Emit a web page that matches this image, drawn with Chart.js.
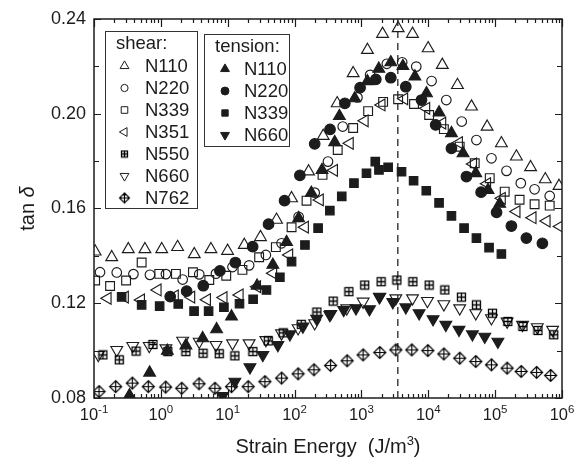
<!DOCTYPE html>
<html>
<head>
<meta charset="utf-8">
<script src="https://cdn.jsdelivr.net/npm/chart.js@4.4.1/dist/chart.umd.min.js"></script>
<style>
  html, body { margin: 0; padding: 0; background: #fff; }
  canvas { display: block; }
</style>
</head>
<body>
<canvas id="tanDelta" width="583" height="469" style="width:583px;height:469px"></canvas>
<script>
// strain energy (J/m^3) and tan delta, one pair of arrays per sample
const SHEAR_N110_E = [0.104, 0.184, 0.326, 0.578, 1.03, 1.78, 3.16, 5.61, 9.95, 17.7, 30.9, 53.7, 90.2, 162, 268, 434, 752, 1230, 2070, 3540, 5810, 9950, 16200, 27300, 44300, 75900, 124000, 208000, 339000, 562000, 902000];
const SHEAR_N110_TAN = [0.1418, 0.1394, 0.1428, 0.1428, 0.1428, 0.1437, 0.1407, 0.1428, 0.1421, 0.1446, 0.1479, 0.1552, 0.1643, 0.1756, 0.1906, 0.2044, 0.2171, 0.2269, 0.2337, 0.2361, 0.2337, 0.2276, 0.2206, 0.2121, 0.2030, 0.1945, 0.1875, 0.1819, 0.1774, 0.1723, 0.1695];

const SHEAR_N220_E = [0.123, 0.219, 0.389, 0.687, 1.19, 2.12, 3.75, 6.67, 11.8, 20.9, 37.2, 63.8, 115, 200, 316, 525, 871, 1350, 2400, 4070, 6610, 11200, 18600, 31600, 52500, 88100, 148000, 242000, 389000, 655000];
const SHEAR_N220_TAN = [0.1331, 0.1330, 0.1323, 0.1320, 0.1323, 0.1300, 0.1322, 0.1325, 0.1353, 0.1360, 0.1404, 0.1453, 0.1565, 0.1667, 0.1798, 0.1946, 0.2069, 0.2164, 0.2211, 0.2217, 0.2199, 0.2138, 0.2058, 0.1967, 0.1889, 0.1812, 0.1759, 0.1707, 0.1681, 0.1653];

const SHEAR_N339_E = [0.104, 0.174, 0.302, 0.516, 0.946, 1.68, 3.02, 5.30, 9.51, 16.6, 29.5, 52.5, 90.2, 151, 262, 442, 752, 1260, 2110, 3540, 6120, 10300, 17100, 29500, 49500, 83000, 139000, 232000, 389000, 655000];
const SHEAR_N339_TAN = [0.1296, 0.1273, 0.1296, 0.1372, 0.1324, 0.1324, 0.1331, 0.1298, 0.1316, 0.1341, 0.1394, 0.1437, 0.1521, 0.1633, 0.1742, 0.1847, 0.1940, 0.2011, 0.2050, 0.2061, 0.2041, 0.1995, 0.1935, 0.1861, 0.1791, 0.1728, 0.1671, 0.1637, 0.1618, 0.1612];

const SHEAR_N351_E = [0.160, 0.290, 0.505, 0.895, 1.62, 2.85, 4.90, 8.67, 15.1, 27.5, 47.9, 83.2, 143, 239, 389, 670, 1120, 2000, 4370, 9330, 16200, 28800, 46800, 75900, 126000, 209000, 363000, 589000, 933000];
const SHEAR_N351_TAN = [0.1221, 0.1226, 0.1214, 0.1256, 0.1231, 0.1226, 0.1215, 0.1224, 0.1235, 0.1270, 0.1327, 0.1404, 0.1521, 0.1636, 0.1761, 0.1875, 0.1970, 0.2037, 0.2063, 0.2023, 0.1960, 0.1878, 0.1788, 0.1705, 0.1643, 0.1587, 0.1561, 0.1547, 0.1524];

const SHEAR_N550_E = [0.136, 0.239, 0.425, 0.762, 1.27, 2.37, 4.27, 7.46, 12.8, 23.8, 40.4, 67.6, 126, 216, 378, 650, 1120, 1970, 3390, 5890, 10300, 17700, 31300, 52500, 91200, 155000, 261000, 437000, 752000];
const SHEAR_N550_TAN = [0.0982, 0.0961, 0.0998, 0.1026, 0.0996, 0.0996, 0.0989, 0.0987, 0.0978, 0.0996, 0.1041, 0.1075, 0.1111, 0.1163, 0.1209, 0.1249, 0.1277, 0.1291, 0.1298, 0.1291, 0.1277, 0.1256, 0.1226, 0.1193, 0.1158, 0.1123, 0.1102, 0.1085, 0.1067];

const SHEAR_N660_E = [0.116, 0.219, 0.380, 0.671, 1.19, 2.12, 3.75, 6.67, 11.8, 20.9, 37.2, 63.8, 113, 200, 347, 603, 1060, 1880, 3270, 5810, 9720, 17100, 29500, 51300, 88100, 151000, 257000, 427000, 724000];
const SHEAR_N660_TAN = [0.0982, 0.1003, 0.1020, 0.1020, 0.1010, 0.1042, 0.1038, 0.1024, 0.1031, 0.1031, 0.1045, 0.1073, 0.1095, 0.1116, 0.1155, 0.1179, 0.1207, 0.1228, 0.1221, 0.1221, 0.1210, 0.1196, 0.1179, 0.1158, 0.1137, 0.1123, 0.1109, 0.1099, 0.1088];

const SHEAR_N762_E = [0.119, 0.211, 0.374, 0.649, 1.18, 2.05, 3.72, 6.44, 11.4, 20.2, 36.0, 64.0, 113, 195, 346, 611, 1060, 1880, 3270, 5660, 9840, 17100, 29500, 51300, 88100, 151000, 245000, 417000, 676000];
const SHEAR_N762_TAN = [0.0827, 0.0848, 0.0863, 0.0848, 0.0846, 0.0841, 0.0860, 0.0841, 0.0848, 0.0848, 0.0869, 0.0884, 0.0902, 0.0919, 0.0937, 0.0957, 0.0982, 0.0992, 0.1003, 0.1003, 0.1000, 0.0986, 0.0968, 0.0954, 0.0940, 0.0926, 0.0912, 0.0908, 0.0895];

const TENSION_N110_E = [0.339, 0.679, 1.25, 2.37, 4.22, 6.82, 11.4, 27.5, 47.3, 75.9, 115, 178, 257, 398, 468, 794, 1230, 1820, 2750, 4170, 6310, 9400, 14500, 22200, 33100, 51300, 78300, 117000];
const TENSION_N110_TAN = [0.0811, 0.0907, 0.0999, 0.1022, 0.1052, 0.1090, 0.1144, 0.1274, 0.1362, 0.1458, 0.1559, 0.1666, 0.1762, 0.1880, 0.1990, 0.2065, 0.2137, 0.2190, 0.2217, 0.2201, 0.2157, 0.2086, 0.2005, 0.1918, 0.1833, 0.1749, 0.1678, 0.1620];

const TENSION_N220_E = [1.38, 2.43, 4.31, 7.64, 13.0, 23.6, 40.8, 70.8, 120, 200, 339, 565, 955, 1640, 2750, 4610, 7910, 12900, 22200, 37200, 61700, 105000, 175000, 293000, 509000];
const TENSION_N220_TAN = [0.1228, 0.1251, 0.1274, 0.1337, 0.1372, 0.1439, 0.1534, 0.1633, 0.1740, 0.1873, 0.1934, 0.2044, 0.2110, 0.2145, 0.2152, 0.2114, 0.2058, 0.1953, 0.1854, 0.1735, 0.1669, 0.1584, 0.1526, 0.1475, 0.1453];

const TENSION_N339_E = [0.259, 0.516, 0.959, 1.82, 3.14, 5.18, 8.77, 15.0, 24.0, 38.0, 60.3, 90.2, 143, 225, 337, 508, 773, 1190, 1610, 1830, 2510, 3980, 6030, 9330, 14500, 22200, 34300, 52500, 81100, 124000];
const TENSION_N339_TAN = [0.1227, 0.1193, 0.1188, 0.1197, 0.1167, 0.1167, 0.1183, 0.1198, 0.1217, 0.1256, 0.1310, 0.1376, 0.1446, 0.1517, 0.1591, 0.1651, 0.1707, 0.1749, 0.1798, 0.1763, 0.1774, 0.1755, 0.1717, 0.1675, 0.1624, 0.1569, 0.1517, 0.1475, 0.1435, 0.1408];

const TENSION_N660_E = [8.38, 12.8, 21.5, 33.5, 56.2, 85.1, 133, 214, 337, 543, 828, 1320, 1860, 2950, 4610, 7290, 11800, 18300, 28800, 45700, 70000, 110000];
const TENSION_N660_TAN = [0.0809, 0.0869, 0.0930, 0.0982, 0.1024, 0.1069, 0.1102, 0.1135, 0.1151, 0.1172, 0.1179, 0.1175, 0.1226, 0.1205, 0.1183, 0.1158, 0.1133, 0.1109, 0.1088, 0.1069, 0.1059, 0.1038];

// energy where the loss peaks (dashed marker)
const PEAK_ENERGY = 3500;

// axis ranges and ticks
const X_MIN = 0.1;
const X_MAX = 1e6;
const X_DECADES = [-1, 0, 1, 2, 3, 4, 5, 6];
const Y_MIN = 0.08;
const Y_MAX = 0.24;
const Y_TICKS = [0.08, 0.12, 0.16, 0.20, 0.24];
const Y_MINOR = [0.10, 0.14, 0.18, 0.22];

const X_TITLE = 'Strain Energy  (J/m';
const X_TITLE_SUP = '3';
const X_TITLE_END = ')';
const Y_TITLE = 'tan ';
const Y_TITLE_SYMBOL = 'δ';

const SHEAR_TITLE = 'shear:';
const TENSION_TITLE = 'tension:';

const INK = '#1c1c1c';
const FONT = '"Liberation Sans", Arial, Helvetica, sans-serif';
const CLEAR = 'rgba(0,0,0,0)';

// small canvases for the two symbols Chart.js has no built-in style for
function plusSquare(half) {
  const size = Math.ceil(half) * 2 + 3;
  const c = document.createElement('canvas');
  c.width = c.height = size;
  const g = c.getContext('2d');
  const m = size / 2;
  g.strokeStyle = '#000';
  g.lineWidth = 1.3;
  g.strokeRect(m - half, m - half, half * 2, half * 2);
  g.beginPath();
  g.moveTo(m - half, m);
  g.lineTo(m + half, m);
  g.moveTo(m, m - half);
  g.lineTo(m, m + half);
  g.stroke();
  return c;
}

function plusDiamond(half) {
  const size = Math.ceil(half) * 2 + 3;
  const c = document.createElement('canvas');
  c.width = c.height = size;
  const g = c.getContext('2d');
  const m = size / 2;
  g.strokeStyle = '#000';
  g.lineWidth = 1.2;
  g.beginPath();
  g.moveTo(m, m - half);
  g.lineTo(m + half, m);
  g.lineTo(m, m + half);
  g.lineTo(m - half, m);
  g.closePath();
  g.moveTo(m - half, m);
  g.lineTo(m + half, m);
  g.moveTo(m, m - half);
  g.lineTo(m, m + half);
  g.stroke();
  return c;
}

function pairs(energy, tan) {
  return energy.map((e, i) => ({ x: e, y: tan[i] }));
}

// marker look for every sample, reused by the legend boxes
const STYLES = {
  sN110: { pointStyle: 'triangle', radius: 6.8, rotation: 0, fill: false },
  sN220: { pointStyle: 'circle', radius: 4.8, rotation: 0, fill: false },
  sN339: { pointStyle: 'rect', radius: 6.2, rotation: 0, fill: false },
  sN351: { pointStyle: 'triangle', radius: 6.8, rotation: 270, fill: false },
  sN550: { pointStyle: plusSquare(4), legendStyle: plusSquare(3), radius: 5, rotation: 0, fill: false },
  sN660: { pointStyle: 'triangle', radius: 6.8, rotation: 180, fill: false },
  sN762: { pointStyle: plusDiamond(6), legendStyle: plusDiamond(5), radius: 6, rotation: 0, fill: false },
  tN110: { pointStyle: 'triangle', radius: 6.8, rotation: 0, fill: true },
  tN220: { pointStyle: 'circle', radius: 5.3, rotation: 0, fill: true },
  tN339: { pointStyle: 'rect', radius: 6, rotation: 0, fill: true },
  tN660: { pointStyle: 'triangle', radius: 6.8, rotation: 180, fill: true },
};

const SHEAR_LEGEND = [['sN110', 'N110'], ['sN220', 'N220'], ['sN339', 'N339'], ['sN351', 'N351'], ['sN550', 'N550'], ['sN660', 'N660'], ['sN762', 'N762']];
const TENSION_LEGEND = [['tN110', 'N110'], ['tN220', 'N220'], ['tN339', 'N339'], ['tN660', 'N660']];

function series(key, label, energy, tan) {
  const s = STYLES[key];
  return {
    label: label,
    data: pairs(energy, tan),
    pointStyle: s.pointStyle,
    pointRadius: s.radius,
    pointRotation: s.rotation,
    pointBorderWidth: 1.15,
    pointBorderColor: INK,
    pointBackgroundColor: s.fill ? INK : CLEAR,
    showLine: false,
    clip: 0,
  };
}

const datasets = [
  series('tN110', 'tension N110', TENSION_N110_E, TENSION_N110_TAN),
  series('tN220', 'tension N220', TENSION_N220_E, TENSION_N220_TAN),
  series('tN339', 'tension N339', TENSION_N339_E, TENSION_N339_TAN),
  series('tN660', 'tension N660', TENSION_N660_E, TENSION_N660_TAN),
  series('sN110', 'shear N110', SHEAR_N110_E, SHEAR_N110_TAN),
  series('sN220', 'shear N220', SHEAR_N220_E, SHEAR_N220_TAN),
  series('sN339', 'shear N339', SHEAR_N339_E, SHEAR_N339_TAN),
  series('sN351', 'shear N351', SHEAR_N351_E, SHEAR_N351_TAN),
  series('sN550', 'shear N550', SHEAR_N550_E, SHEAR_N550_TAN),
  series('sN660', 'shear N660', SHEAR_N660_E, SHEAR_N660_TAN),
  series('sN762', 'shear N762', SHEAR_N762_E, SHEAR_N762_TAN),
  {
    type: 'line',
    label: 'peak',
    data: [{ x: PEAK_ENERGY, y: Y_MIN }, { x: PEAK_ENERGY, y: Y_MAX }],
    borderColor: '#333',
    borderWidth: 1.4,
    borderDash: [7, 5],
    pointRadius: 0,
    showLine: true,
  },
];

// box, inward ticks, decade labels and axis titles
const framePlugin = {
  id: 'frame',
  afterDatasetsDraw(chart) {
    const { ctx, chartArea: a, scales } = chart;
    const xs = scales.x;
    const ys = scales.y;
    ctx.save();
    ctx.strokeStyle = INK;
    ctx.lineWidth = 1.2;
    ctx.beginPath();
    X_DECADES.forEach((d) => {
      for (let m = 1; m < 10; m++) {
        const v = m * Math.pow(10, d);
        if (v > X_MAX) break;
        const px = Math.round(xs.getPixelForValue(v)) + 0.5;
        const len = m === 1 ? 8 : 4;
        ctx.moveTo(px, a.bottom);
        ctx.lineTo(px, a.bottom - len);
        ctx.moveTo(px, a.top);
        ctx.lineTo(px, a.top + len);
      }
    });
    Y_TICKS.concat(Y_MINOR).forEach((v) => {
      const py = Math.round(ys.getPixelForValue(v)) + 0.5;
      const len = Y_TICKS.includes(v) ? 7 : 5;
      ctx.moveTo(a.left, py);
      ctx.lineTo(a.left + len, py);
      ctx.moveTo(a.right, py);
      ctx.lineTo(a.right - len, py);
    });
    ctx.stroke();

    ctx.lineWidth = 1.5;
    ctx.strokeRect(a.left, a.top, a.right - a.left, a.bottom - a.top);

    // decade labels 10^n
    ctx.fillStyle = INK;
    ctx.textBaseline = 'alphabetic';
    ctx.textAlign = 'left';
    X_DECADES.forEach((d) => {
      const px = xs.getPixelForValue(Math.pow(10, d));
      const sup = String(d);
      ctx.font = '16.5px ' + FONT;
      const wBase = ctx.measureText('10').width;
      ctx.font = '11.5px ' + FONT;
      const wSup = ctx.measureText(sup).width;
      const x0 = px - (wBase + wSup) / 2;
      ctx.font = '16.5px ' + FONT;
      ctx.fillText('10', x0, a.bottom + 22);
      ctx.font = '11.5px ' + FONT;
      ctx.fillText(sup, x0 + wBase, a.bottom + 15);
    });

    // x title with superscript
    const cx = (a.left + a.right) / 2;
    ctx.font = '20px ' + FONT;
    const w1 = ctx.measureText(X_TITLE).width;
    const w3 = ctx.measureText(X_TITLE_END).width;
    ctx.font = '13px ' + FONT;
    const w2 = ctx.measureText(X_TITLE_SUP).width;
    const tx = cx - (w1 + w2 + w3) / 2;
    const ty = a.bottom + 55;
    ctx.font = '20px ' + FONT;
    ctx.fillText(X_TITLE, tx, ty);
    ctx.font = '13px ' + FONT;
    ctx.fillText(X_TITLE_SUP, tx + w1, ty - 8);
    ctx.font = '20px ' + FONT;
    ctx.fillText(X_TITLE_END, tx + w1 + w2, ty);

    // y title, rotated, with italic delta
    ctx.translate(34, (a.top + a.bottom) / 2);
    ctx.rotate(-Math.PI / 2);
    ctx.font = '20px ' + FONT;
    const wt = ctx.measureText(Y_TITLE).width;
    ctx.font = 'italic 20px ' + FONT;
    const wd = ctx.measureText(Y_TITLE_SYMBOL).width;
    ctx.font = '20px ' + FONT;
    ctx.fillText(Y_TITLE, -(wt + wd) / 2, 0);
    ctx.font = 'italic 20px ' + FONT;
    ctx.fillText(Y_TITLE_SYMBOL, -(wt + wd) / 2 + wt, 0);
    ctx.restore();
  },
};

// the two boxed legends
function drawLegendBox(ctx, box, title, rows) {
  ctx.fillStyle = '#fff';
  ctx.fillRect(box.x, box.y, box.w, box.h);
  ctx.strokeStyle = '#333';
  ctx.lineWidth = 1;
  ctx.strokeRect(box.x + 0.5, box.y + 0.5, box.w, box.h);
  ctx.fillStyle = INK;
  ctx.font = '18.5px ' + FONT;
  ctx.textBaseline = 'middle';
  ctx.textAlign = 'left';
  ctx.fillText(title, box.titleX, box.titleY);
  rows.forEach(([key, label], i) => {
    const s = STYLES[key];
    const y = box.firstRow + i * box.step;
    ctx.fillStyle = s.fill ? INK : CLEAR;
    ctx.strokeStyle = INK;
    ctx.lineWidth = 1;
    Chart.helpers.drawPoint(ctx, {
      pointStyle: s.legendStyle || s.pointStyle,
      radius: s.radius * 0.75,
      rotation: s.rotation,
      borderWidth: 1,
    }, box.symbolX, y);
    ctx.fillStyle = INK;
    ctx.fillText(label, box.labelX, y + 1);
  });
}

const legendPlugin = {
  id: 'boxedLegends',
  afterDraw(chart) {
    const ctx = chart.ctx;
    ctx.save();
    drawLegendBox(ctx, { x: 105, y: 31, w: 92, h: 177, titleX: 116, titleY: 44, symbolX: 124.5, labelX: 145, firstRow: 66, step: 22 }, SHEAR_TITLE, SHEAR_LEGEND);
    drawLegendBox(ctx, { x: 204, y: 34, w: 85, h: 112, titleX: 215, titleY: 47, symbolX: 225, labelX: 244, firstRow: 69, step: 22 }, TENSION_TITLE, TENSION_LEGEND);
    ctx.restore();
  },
};

const ctx = document.getElementById('tanDelta');
const tanChart = new Chart(ctx, {
  type: 'scatter',
  data: { datasets: datasets },
  options: {
    responsive: false,
    animation: false,
    layout: { padding: { top: 19, right: 21, left: 0, bottom: 0 } },
    plugins: {
      legend: { display: false },
      tooltip: { enabled: false },
    },
    scales: {
      x: {
        type: 'logarithmic',
        min: X_MIN,
        max: X_MAX,
        grid: { display: false, drawTicks: false },
        border: { display: false },
        ticks: { display: false },
        afterFit(scale) {
          scale.height = 71;
        },
      },
      y: {
        min: Y_MIN,
        max: Y_MAX,
        grid: { display: false, drawTicks: false },
        border: { display: false },
        ticks: {
          stepSize: 0.04,
          padding: 8,
          color: INK,
          font: { family: FONT, size: 18 },
          callback: (v) => v.toFixed(2),
        },
        afterFit(scale) {
          scale.width = 94;
        },
      },
    },
  },
  plugins: [framePlugin, legendPlugin],
});
</script>
</body>
</html>
